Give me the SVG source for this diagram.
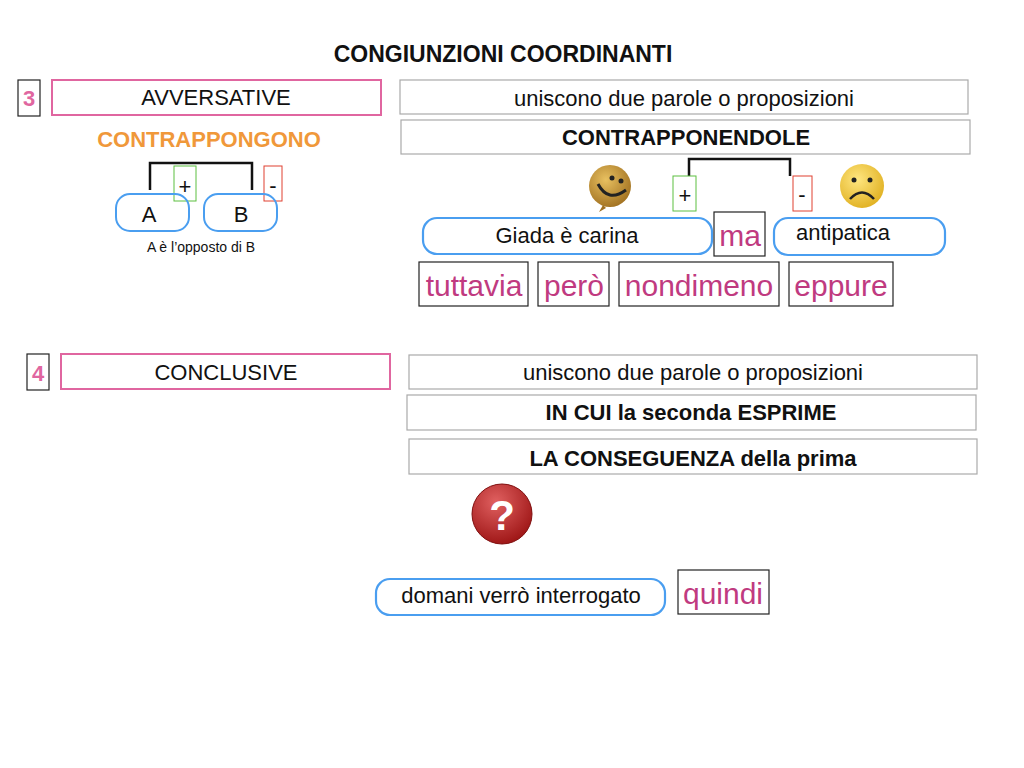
<svg xmlns="http://www.w3.org/2000/svg" width="1024" height="768" viewBox="0 0 1024 768">
<defs>
<radialGradient id="yel" cx="40%" cy="35%" r="70%"><stop offset="0" stop-color="#ffe680"/><stop offset="1" stop-color="#e0b020"/></radialGradient>
<radialGradient id="gold" cx="40%" cy="35%" r="70%"><stop offset="0" stop-color="#e8c060"/><stop offset="1" stop-color="#a07020"/></radialGradient>
<radialGradient id="red" cx="40%" cy="30%" r="70%"><stop offset="0" stop-color="#e06060"/><stop offset="1" stop-color="#a01818"/></radialGradient>
</defs>
<style>
text{font-family:"Liberation Sans",Arial,sans-serif;text-anchor:middle}
.g{fill:#fff;stroke:#aaa;stroke-width:1.2}
.p{fill:#fff;stroke:#e066a0;stroke-width:2}
.k{fill:#fff;stroke:#222;stroke-width:1.2}
.b{fill:#fff;stroke:#4a9ef0;stroke-width:2.2}
.t{font-size:22px;fill:#111}
.bt{font-size:22px;font-weight:bold;fill:#111}
.m{font-size:30px;fill:#c03a80}
</style>
<rect width="1024" height="768" fill="#fff"/>
<text x="503" y="62" font-size="23" font-weight="bold" fill="#111">CONGIUNZIONI COORDINANTI</text>
<g id="n3"><rect x="18" y="80" width="22" height="36" class="k"/><text x="29" y="106" font-size="22" font-weight="bold" fill="#e066a0">3</text></g>
<g id="avv"><rect x="52" y="80" width="329" height="35" class="p"/><text x="216" y="105" class="t">AVVERSATIVE</text></g>
<g id="u1"><rect x="400" y="80" width="568" height="34" class="g"/><text x="684" y="106" class="t">uniscono due parole o proposizioni</text></g>
<g id="contr"><rect x="401" y="120" width="569" height="34" class="g"/><text x="686" y="145" class="bt">CONTRAPPONENDOLE</text></g>
<text x="209" y="147" font-size="22" font-weight="bold" fill="#f0983a">CONTRAPPONGONO</text>
<g id="conn" fill="none" stroke="#111" stroke-width="2.5">
<path d="M150 190 V163 H252 V190"/>
<path d="M689 176 V159 H790 V176"/>
</g>
<g id="plus1"><rect x="174" y="166" width="22" height="35" fill="none" stroke="#5cbf40"/><text x="185" y="194" class="t">+</text></g>
<g id="minus1"><rect x="264" y="166" width="18" height="35" fill="none" stroke="#e04030"/><text x="273" y="193" class="t">-</text></g>
<g id="A"><rect x="116" y="194" width="73" height="37" rx="14" fill="none" stroke="#4a9ef0" stroke-width="2"/><text x="149" y="222" class="t">A</text></g>
<g id="B"><rect x="204" y="194" width="73" height="37" rx="14" fill="none" stroke="#4a9ef0" stroke-width="2"/><text x="241" y="222" class="t">B</text></g>
<text x="201" y="252" font-size="14" fill="#111">A è l’opposto di B</text>
<g id="smile"><circle cx="610" cy="186" r="21" fill="url(#gold)"/><circle cx="612" cy="178" r="2.5" fill="#222"/><circle cx="621" cy="181" r="2.5" fill="#222"/><path d="M598 184 Q608 203 626 190" fill="none" stroke="#222" stroke-width="3"/><path d="M603 205 l-4 7 l7 -4" fill="#a07020"/></g>
<g id="sad"><circle cx="862" cy="186" r="22" fill="url(#yel)"/><circle cx="854" cy="180" r="2.5" fill="#222"/><circle cx="870" cy="180" r="2.5" fill="#222"/><path d="M850 199 Q862 186 874 199" fill="none" stroke="#222" stroke-width="2.5"/></g>
<g id="plus2"><rect x="673" y="176" width="23" height="35" fill="#fff" stroke="#5cbf40"/><text x="685" y="203" class="t">+</text></g>
<g id="minus2"><rect x="793" y="176" width="19" height="35" fill="#fff" stroke="#e04030"/><text x="802" y="202" class="t">-</text></g>
<g id="giada"><rect x="423" y="218" width="289" height="36" rx="14" class="b"/><text x="567" y="243" class="t">Giada è carina</text></g>
<g id="ma"><rect x="714" y="212" width="51" height="44" class="k"/><text x="740" y="246" class="m">ma</text></g>
<g id="anti"><rect x="774" y="218" width="171" height="37" rx="14" class="b"/><text x="843" y="240" class="t">antipatica</text></g>
<g id="tutt"><rect x="419" y="262" width="109" height="44" class="k"/><text x="474" y="296" class="m">tuttavia</text></g>
<g id="pero"><rect x="538" y="262" width="71" height="44" class="k"/><text x="574" y="296" class="m">però</text></g>
<g id="nond"><rect x="619" y="262" width="160" height="44" class="k"/><text x="699" y="296" class="m">nondimeno</text></g>
<g id="epp"><rect x="789" y="262" width="104" height="44" class="k"/><text x="841" y="296" class="m">eppure</text></g>
<g id="n4"><rect x="27" y="354" width="22" height="36" class="k"/><text x="38" y="381" font-size="22" font-weight="bold" fill="#e066a0">4</text></g>
<g id="concl"><rect x="61" y="354" width="329" height="35" class="p"/><text x="226" y="380" class="t">CONCLUSIVE</text></g>
<g id="u2"><rect x="409" y="355" width="568" height="34" class="g"/><text x="693" y="380" class="t">uniscono due parole o proposizioni</text></g>
<g id="incui"><rect x="407" y="395" width="569" height="35" class="g"/><text x="691" y="420" class="bt">IN CUI la seconda ESPRIME</text></g>
<g id="cons"><rect x="409" y="439" width="568" height="35" class="g"/><text x="693" y="466" class="bt">LA CONSEGUENZA della prima</text></g>
<g id="q"><circle cx="502" cy="514" r="30" fill="url(#red)" stroke="#801010"/><text x="502" y="530" font-size="42" font-weight="bold" fill="#fff">?</text></g>
<g id="dom"><rect x="376" y="579" width="289" height="36" rx="14" class="b"/><text x="521" y="603" class="t">domani verrò interrogato</text></g>
<g id="quindi"><rect x="678" y="570" width="91" height="44" class="k"/><text x="723" y="604" class="m">quindi</text></g>
</svg>
